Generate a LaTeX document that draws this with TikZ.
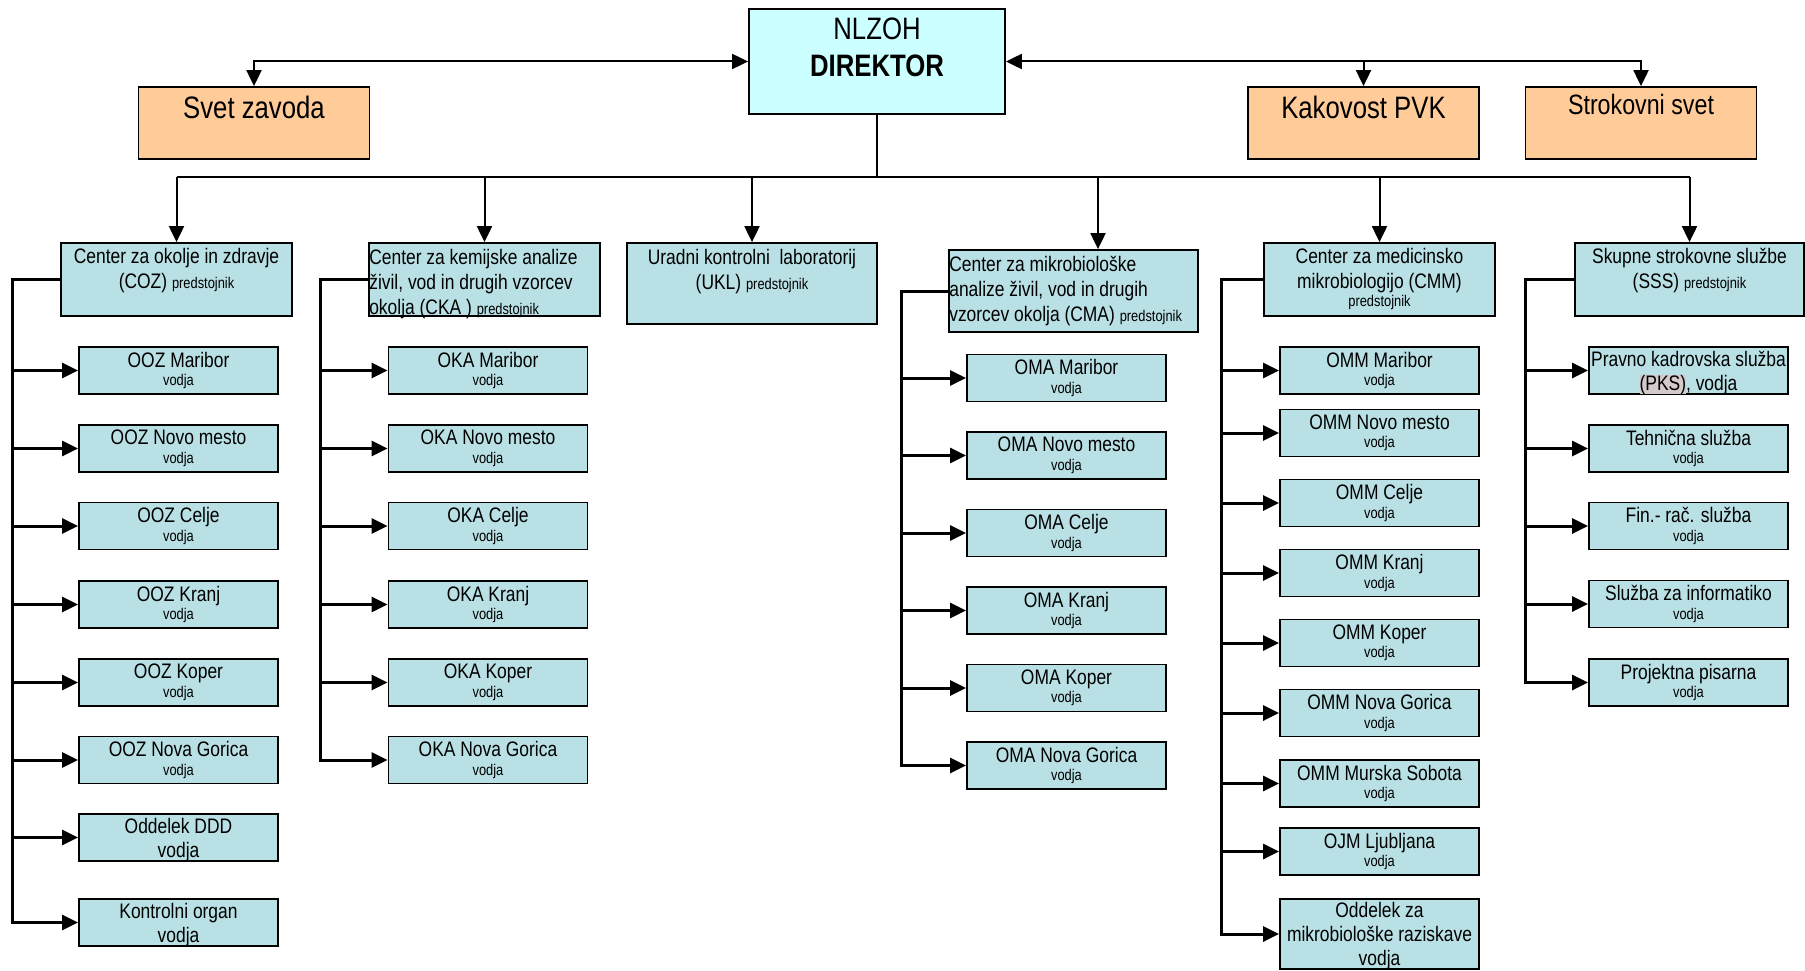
\documentclass[tikz,border=0pt]{standalone}
\usepackage{fontspec}
\setmainfont{Liberation Sans}[FakeStretch=0.83]
\usetikzlibrary{arrows.meta}

\definecolor{dirfill}{RGB}{204,255,255}
\definecolor{orangefill}{RGB}{255,204,153}
\definecolor{unitfill}{RGB}{185,224,228}
\definecolor{pksgray}{RGB}{212,202,202}

\newcommand{\vod}{\fontsize{15.5}{17}\selectfont}
\newcommand{\vodja}{\\[-5.5pt]{\vod vodja}}
\newcommand{\pksmark}[1]{{\setlength{\fboxsep}{0pt}\colorbox{pksgray}{#1}}}

\tikzset{
	unit/.style={draw, line width=1.8pt, fill=unitfill, minimum width=199pt, minimum height=47pt, inner sep=0pt, align=center, font=\fontsize{21}{24}\selectfont},
	lowunit/.style={unit, text depth=-9.5pt},
	headbox/.style={draw, line width=1.8pt, fill=unitfill, minimum width=231pt, minimum height=73pt, inner sep=0pt},
	headtext/.style={anchor=north, inner sep=0pt, align=center, font=\fontsize{21}{25}\selectfont},
	topbox/.style={draw, line width=1.8pt, fill=orangefill, minimum width=231pt, minimum height=72pt, inner sep=0pt},
	toptext/.style={anchor=north, inner sep=0pt, yshift=-10pt, font=\fontsize{31}{35}\selectfont},
	link/.style={line width=2pt, -{Triangle[length=16pt,width=15pt]}},
	twoway/.style={line width=2pt, {Triangle[length=16pt,width=15pt]}-{Triangle[length=16pt,width=15pt]}},
	branch/.style={line width=3pt, -{Triangle[length=16pt,width=15pt]}}
}

\begin{document}
\begin{tikzpicture}[x=1pt,y=-1pt]
	\useasboundingbox (0,0) rectangle (1805,971);

	% vodstvo
	\node[draw, line width=1.8pt, fill=dirfill, minimum width=256pt, minimum height=105pt, inner sep=0pt,
		label={[anchor=north, inner sep=0pt, yshift=-10pt, align=center, font=\fontsize{31}{37}\selectfont]north:NLZOH\\\textbf{DIREKTOR}}] (direktor) at (877,61.5) {};
	\node[topbox, label={[toptext]north:Svet zavoda}] (svet) at (254,123) {};
	\node[topbox, label={[toptext]north:Kakovost PVK}] (kakovost) at (1363.5,123) {};
	\node[topbox, label={[toptext, yshift=2pt, font=\fontsize{28}{30}\selectfont]north:Strokovni svet}] (strokovni) at (1641,123) {};

	\draw[twoway] (svet.north) |- (direktor.west);
	\draw[twoway] (direktor.east) -| (strokovni.north);
	\draw[link] (direktor.east -| kakovost.north) -- (kakovost.north);

	% centri
	\node[headbox, label={[headtext, yshift=-6pt]north:Center za okolje in zdravje\\(COZ) {\vod predstojnik}}] (coz) at (176.5,279.5) {};
	\node[headbox, label={[headtext, anchor=north west, align=left, xshift=1pt, yshift=-6.5pt]north west:Center za kemijske analize\\živil, vod in drugih vzorcev\\okolja (CKA ) {\vod predstojnik}}] (cka) at (484.5,279.5) {};
	\node[headbox, minimum width=250pt, minimum height=81pt, label={[headtext, yshift=-7pt]north:Uradni kontrolni\ \ laboratorij\\(UKL) {\vod predstojnik}}] (ukl) at (752,283.5) {};
	\node[headbox, minimum width=249pt, minimum height=82pt, label={[headtext, anchor=north west, align=left, xshift=1pt, yshift=-7pt]north west:Center za mikrobiološke\\analize živil, vod in drugih\\vzorcev okolja (CMA) {\vod predstojnik}}] (cma) at (1073.5,291) {};
	\node[headbox, label={[headtext, yshift=-6pt]north:Center za medicinsko\\mikrobiologijo (CMM)\\[-7.5pt]{\vod predstojnik}}] (cmm) at (1379.5,279.5) {};
	\node[headbox, minimum width=229pt, label={[headtext, yshift=-6pt]north:Skupne strokovne službe\\(SSS) {\vod predstojnik}}] (sss) at (1689.5,279.5) {};

	\coordinate (bus) at (877,177);
	\coordinate (cmadrop) at ([xshift=24.5pt]cma.north);
	\draw[line width=2pt] (direktor.south) -- (bus);
	\draw[line width=2.5pt] (coz.north |- bus) -- (sss.north |- bus);
	\draw[link] (coz.north |- bus) -- (coz.north);
	\draw[link] (cka.north |- bus) -- (cka.north);
	\draw[link] (ukl.north |- bus) -- (ukl.north);
	\draw[link] (cmadrop |- bus) -- (cmadrop);
	\draw[link] (cmm.north |- bus) -- (cmm.north);
	\draw[link] (sss.north |- bus) -- (sss.north);

	% COZ
	\coordinate (coztrunk) at (12,0);
	\node[unit] (oozmb) at (178.5,370.5) {OOZ Maribor\vodja};
	\node[unit] (ooznm) at (178.5,448.5) {OOZ Novo mesto\vodja};
	\node[unit] (oozce) at (178.5,526) {OOZ Celje\vodja};
	\node[unit] (oozkr) at (178.5,604.5) {OOZ Kranj\vodja};
	\node[unit] (oozkp) at (178.5,682.5) {OOZ Koper\vodja};
	\node[unit] (oozng) at (178.5,760) {OOZ Nova Gorica\vodja};
	\node[lowunit] (oozddd) at (178.5,837.5) {Oddelek DDD\\vodja};
	\node[lowunit] (oozko) at (178.5,922.5) {Kontrolni organ\\vodja};
	\draw[branch] (coz.west) -| (coztrunk |- oozko.west) -- (oozko.west);
	\draw[branch] (coztrunk |- oozmb.west) -- (oozmb.west);
	\draw[branch] (coztrunk |- ooznm.west) -- (ooznm.west);
	\draw[branch] (coztrunk |- oozce.west) -- (oozce.west);
	\draw[branch] (coztrunk |- oozkr.west) -- (oozkr.west);
	\draw[branch] (coztrunk |- oozkp.west) -- (oozkp.west);
	\draw[branch] (coztrunk |- oozng.west) -- (oozng.west);
	\draw[branch] (coztrunk |- oozddd.west) -- (oozddd.west);

	% CKA
	\coordinate (ckatrunk) at (320,0);
	\node[unit] (okamb) at (488,370.5) {OKA Maribor\vodja};
	\node[unit] (okanm) at (488,448.5) {OKA Novo mesto\vodja};
	\node[unit] (okace) at (488,526) {OKA Celje\vodja};
	\node[unit] (okakr) at (488,604.5) {OKA Kranj\vodja};
	\node[unit] (okakp) at (488,682.5) {OKA Koper\vodja};
	\node[unit] (okang) at (488,760) {OKA Nova Gorica\vodja};
	\draw[branch] (cka.west) -| (ckatrunk |- okang.west) -- (okang.west);
	\draw[branch] (ckatrunk |- okamb.west) -- (okamb.west);
	\draw[branch] (ckatrunk |- okanm.west) -- (okanm.west);
	\draw[branch] (ckatrunk |- okace.west) -- (okace.west);
	\draw[branch] (ckatrunk |- okakr.west) -- (okakr.west);
	\draw[branch] (ckatrunk |- okakp.west) -- (okakp.west);

	% CMA
	\coordinate (cmatrunk) at (901,0);
	\node[unit] (omamb) at (1066.5,378) {OMA Maribor\vodja};
	\node[unit] (omanm) at (1066.5,455.5) {OMA Novo mesto\vodja};
	\node[unit] (omace) at (1066.5,533) {OMA Celje\vodja};
	\node[unit] (omakr) at (1066.5,610.5) {OMA Kranj\vodja};
	\node[unit] (omakp) at (1066.5,688) {OMA Koper\vodja};
	\node[unit] (omang) at (1066.5,765.5) {OMA Nova Gorica\vodja};
	\draw[branch] (cma.west) -| (cmatrunk |- omang.west) -- (omang.west);
	\draw[branch] (cmatrunk |- omamb.west) -- (omamb.west);
	\draw[branch] (cmatrunk |- omanm.west) -- (omanm.west);
	\draw[branch] (cmatrunk |- omace.west) -- (omace.west);
	\draw[branch] (cmatrunk |- omakr.west) -- (omakr.west);
	\draw[branch] (cmatrunk |- omakp.west) -- (omakp.west);

	% CMM
	\coordinate (cmmtrunk) at (1221,0);
	\node[unit] (ommmb) at (1379.5,370.5) {OMM Maribor\vodja};
	\node[unit] (ommnm) at (1379.5,433) {OMM Novo mesto\vodja};
	\node[unit] (ommce) at (1379.5,503) {OMM Celje\vodja};
	\node[unit] (ommkr) at (1379.5,573) {OMM Kranj\vodja};
	\node[unit] (ommkp) at (1379.5,643) {OMM Koper\vodja};
	\node[unit] (ommng) at (1379.5,713) {OMM Nova Gorica\vodja};
	\node[unit] (ommms) at (1379.5,783.5) {OMM Murska Sobota\vodja};
	\node[unit] (ojmlj) at (1379.5,851.5) {OJM Ljubljana\vodja};
	\node[lowunit, minimum height=70pt] (ommodd) at (1379.5,934) {Oddelek za\\mikrobiološke raziskave\\vodja};
	\draw[branch] (cmm.west) -| (cmmtrunk |- ommodd.west) -- (ommodd.west);
	\draw[branch] (cmmtrunk |- ommmb.west) -- (ommmb.west);
	\draw[branch] (cmmtrunk |- ommnm.west) -- (ommnm.west);
	\draw[branch] (cmmtrunk |- ommce.west) -- (ommce.west);
	\draw[branch] (cmmtrunk |- ommkr.west) -- (ommkr.west);
	\draw[branch] (cmmtrunk |- ommkp.west) -- (ommkp.west);
	\draw[branch] (cmmtrunk |- ommng.west) -- (ommng.west);
	\draw[branch] (cmmtrunk |- ommms.west) -- (ommms.west);
	\draw[branch] (cmmtrunk |- ojmlj.west) -- (ojmlj.west);

	% SSS
	\coordinate (ssstrunk) at (1525,0);
	\node[lowunit] (pks) at (1688.5,370.5) {Pravno kadrovska služba\\\pksmark{(PKS)}, vodja};
	\node[unit] (tehn) at (1688.5,448.5) {Tehnična služba\vodja};
	\node[unit] (fin) at (1688.5,526) {Fin.- rač. služba\vodja};
	\node[unit] (inf) at (1688.5,604) {Služba za informatiko\vodja};
	\node[unit] (proj) at (1688.5,682.5) {Projektna pisarna\vodja};
	\draw[branch] (sss.west) -| (ssstrunk |- proj.west) -- (proj.west);
	\draw[branch] (ssstrunk |- pks.west) -- (pks.west);
	\draw[branch] (ssstrunk |- tehn.west) -- (tehn.west);
	\draw[branch] (ssstrunk |- fin.west) -- (fin.west);
	\draw[branch] (ssstrunk |- inf.west) -- (inf.west);
\end{tikzpicture}
\end{document}
